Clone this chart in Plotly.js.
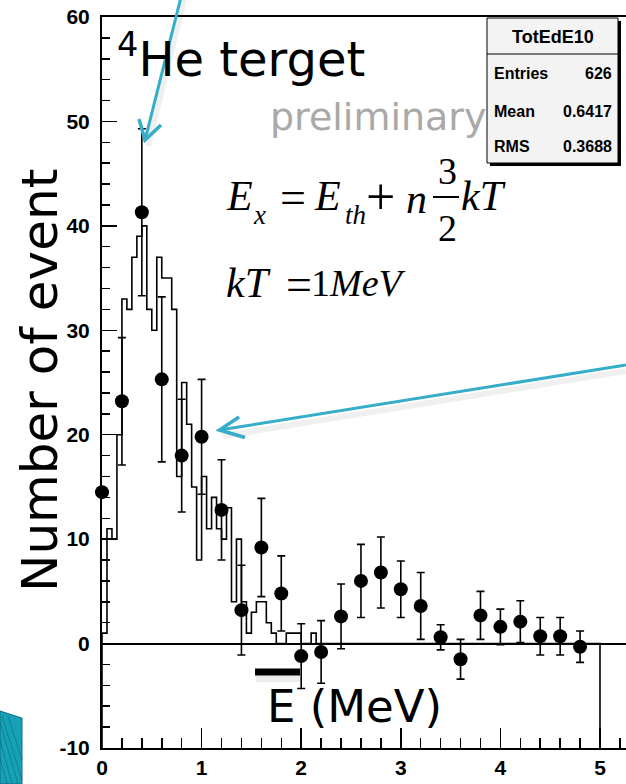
<!DOCTYPE html>
<html>
<head>
<meta charset="utf-8">
<script src="https://cdn.plot.ly/plotly-3.0.1.min.js"></script>
<style>html,body{margin:0;padding:0;background:#fff;}#chart{width:626px;height:784px;}</style>
</head>
<body>
<div id="chart"></div>
<script>
// ---------- data ----------
const binWidth = 0.05;
const histCounts = [
  1, 11, 10, 20, 33, 32, 37, 39, 40, 32,
  30, 37, 35, 35, 32, 16, 25, 21, 15, 8,
  16, 11, 14, 11, 10, 13, 4, 10, 4, 1,
  3, 4, 4, 2, 1, 0, 0, 1, 1, 1,
  0, 0, 1, 0, 0, 0, 0, 0, 0, 0,
  0, 0, 0, 0, 0, 0, 0, 0, 0, 0,
  0, 0, 0, 0, 0, 0, 0, 0, 0, 0,
  0, 0, 0, 0, 0, 0, 0, 0, 0, 0,
  0, 0, 0, 0, 0, 0, 0, 0, 0, 0,
  0, 0, 0, 0, 0, 0, 0, 0, 0, 0
];
const pointX   = [0.0, 0.2, 0.4, 0.6, 0.8, 1.0, 1.2, 1.4, 1.6, 1.8, 2.0, 2.2, 2.4, 2.6, 2.8, 3.0, 3.2, 3.4, 3.6, 3.8, 4.0, 4.2, 4.4, 4.6, 4.8];
const pointY   = [14.5, 23.2, 41.3, 25.3, 18.0, 19.8, 12.8, 3.2, 9.2, 4.8, -1.2, -0.8, 2.6, 6.0, 6.8, 5.2, 3.6, 0.6, -1.5, 2.7, 1.6, 2.1, 0.7, 0.7, -0.3];
const pointErr = [0, 6.1, 8.0, 7.9, 5.4, 5.5, 4.8, 4.3, 4.7, 3.6, 3.1, 3.0, 3.1, 3.5, 3.4, 2.7, 3.2, 1.2, 1.9, 2.3, 1.7, 2.0, 1.8, 1.8, 1.5];
const histMin = -10;
const yRange = [-10, 60];
const yTickVals = [-10, 0, 10, 20, 30, 40, 50, 60];
const yTickText = ['-10', '0', '10', '20', '30', '40', '50', '60'];
const yMinorVals = [-8, -6, -4, -2, 2, 4, 6, 8, 12, 14, 16, 18, 22, 24, 26, 28, 32, 34, 36, 38, 42, 44, 46, 48, 52, 54, 56, 58];
const xTickVals = [0, 1, 2, 3, 4, 5];
const xTickText = ['0', '1', '2', '3', '4', '5'];
const xMinorVals = [0.2, 0.4, 0.6, 0.8, 1.2, 1.4, 1.6, 1.8, 2.2, 2.4, 2.6, 2.8, 3.2, 3.4, 3.6, 3.8, 4.2, 4.4, 4.6, 4.8, 5.2];
const statsTitle = 'TotEdE10';
const statsLabels = ['Entries', 'Mean', 'RMS'];
const statsValues = ['626', '0.6417', '0.3688'];
const titleText = '<sup>4</sup>He terget';
const prelimText = 'preliminary';
const yTitleText = 'Number of event';
const xTitleText = 'E (MeV)';

// ---------- geometry helpers (pixel -> paper) ----------
const W = 626, H = 784;
const L = 102, R = 626, T = 17, B = 748;
const px = x => (x - L) / (R - L);
const py = y => (B - y) / (B - T);
const xMax = (R - L) / 99.6;

// ---------- histogram step line ----------
const stepX = [0], stepY = [histMin];
histCounts.forEach((c, i) => { stepX.push(i * binWidth); stepY.push(c); });
const histEnd = histCounts.length * binWidth;
stepX.push(histEnd); stepY.push(histCounts[histCounts.length - 1]);
stepX.push(histEnd); stepY.push(histMin);

const traces = [
  {
    x: stepX, y: stepY, type: 'scatter', mode: 'lines',
    line: {shape: 'hv', color: '#000', width: 1.6},
    hoverinfo: 'skip', cliponaxis: false
  },
  {
    x: pointX, y: pointY, type: 'scatter', mode: 'markers',
    marker: {color: '#000', size: 14, symbol: 'circle'},
    error_y: {type: 'data', array: pointErr, visible: true, color: '#000', thickness: 1.6, width: 4},
    cliponaxis: false
  }
];

const blue = '#36adc9';
function seg(pts) {
  return pts.map((p, i) => (i ? 'L' : 'M') + px(p[0]).toFixed(4) + ',' + py(p[1]).toFixed(4)).join(' ');
}
const shapes = [
  // stats box shadow + box
  {type: 'rect', xref: 'paper', yref: 'paper', x0: px(490), x1: px(621), y0: py(166), y1: py(21),
   fillcolor: '#000', line: {width: 0}, layer: 'above'},
  {type: 'rect', xref: 'paper', yref: 'paper', x0: px(487), x1: px(618), y0: py(163), y1: py(18),
   fillcolor: '#f3f3f3', line: {color: '#000', width: 1}, layer: 'above'},
  {type: 'line', xref: 'paper', yref: 'paper', x0: px(487), x1: px(618), y0: py(54), y1: py(54),
   line: {color: '#000', width: 1}, layer: 'above'},
  // fraction bar
  {type: 'line', xref: 'paper', yref: 'paper', x0: px(433), x1: px(459), y0: py(197), y1: py(197),
   line: {color: '#000', width: 2}, layer: 'above'},
  // overline bar on E (soft shadow + bar)
  {type: 'line', xref: 'paper', yref: 'paper', x0: px(256), x1: px(302), y0: py(678), y1: py(678),
   line: {color: 'rgba(0,0,0,0.07)', width: 8}, layer: 'above'},
  {type: 'line', xref: 'paper', yref: 'paper', x0: px(255), x1: px(300), y0: py(672), y1: py(672),
   line: {color: '#000', width: 7}, layer: 'above'},
  // arrow soft shadows
  {type: 'path', xref: 'paper', yref: 'paper', path: seg([[184, 0], [148, 146]]),
   line: {color: 'rgba(0,0,0,0.06)', width: 6}, layer: 'above'},
  {type: 'path', xref: 'paper', yref: 'paper', path: seg([[626, 371], [223, 436]]),
   line: {color: 'rgba(0,0,0,0.06)', width: 6}, layer: 'above'},
  // arrow 1
  {type: 'path', xref: 'paper', yref: 'paper', path: seg([[181, -3], [145, 140]]),
   line: {color: blue, width: 3}, layer: 'above'},
  {type: 'path', xref: 'paper', yref: 'paper', path: seg([[139, 119], [145, 140], [161, 125]]),
   line: {color: blue, width: 3.5}, layer: 'above'},
  // arrow 2
  {type: 'path', xref: 'paper', yref: 'paper', path: seg([[626, 365], [219.5, 430]]),
   line: {color: blue, width: 3}, layer: 'above'},
  {type: 'path', xref: 'paper', yref: 'paper', path: seg([[239, 417], [219.5, 430], [245, 437.5]]),
   line: {color: blue, width: 3.5}, layer: 'above'},
  // teal slide decoration bottom-left
  {type: 'path', xref: 'paper', yref: 'paper', path: seg([[0, 711], [22, 718], [22, 784], [0, 784]]) + ' Z',
   fillcolor: '#16a1b7', line: {color: '#0e6f80', width: 1}, layer: 'above'}
];
[[0, 722, 18, 784], [0, 740, 12, 784], [2, 716, 22, 780], [8, 716, 22, 760], [0, 758, 7, 784]].forEach(s => {
  shapes.push({type: 'line', xref: 'paper', yref: 'paper', x0: px(s[0]), y0: py(s[1]), x1: px(s[2]), y1: py(s[3]),
    line: {color: 'rgba(10,90,105,0.45)', width: 1}, layer: 'above'});
});

function ann(text, x, y, opts) {
  return Object.assign({text: text, xref: 'paper', yref: 'paper', x: px(x), y: py(y),
    showarrow: false, xanchor: 'left', yanchor: 'middle'}, opts || {});
}
const sans = 'DejaVu Sans';
const serif = 'Liberation Serif';
const statFont = {family: 'Liberation Sans', size: 16, color: '#000', weight: 'bold'};
const annotations = [
  ann(titleText, 115, 56, {font: {family: sans, size: 48, color: '#000'}}),
  ann(prelimText, 268, 117, {font: {family: sans, size: 38, color: '#a9a9a9'}}),
  ann(yTitleText, 40, 381, {xanchor: 'center', textangle: -90, font: {family: sans, size: 50, color: '#000'}}),
  ann(xTitleText, 354, 706, {xanchor: 'center', font: {family: sans, size: 45, color: '#000'}}),
  // equation line 1
  ann('<i>E</i>', 224, 196, {font: {family: serif, size: 42, color: '#000'}}),
  ann('<i>x</i>', 251, 215, {font: {family: serif, size: 27, color: '#000'}}),
  ann('=', 292.5, 197, {xanchor: 'center', font: {family: serif, size: 46, color: '#000'}}),
  ann('<i>E</i>', 312, 196, {font: {family: serif, size: 42, color: '#000'}}),
  ann('<i>th</i>', 343, 215, {font: {family: serif, size: 27, color: '#000'}}),
  ann('+', 380, 196, {xanchor: 'center', font: {family: serif, size: 52, color: '#000'}}),
  ann('<i>n</i>', 404, 199, {font: {family: serif, size: 42, color: '#000'}}),
  ann('3', 447, 171, {xanchor: 'center', font: {family: serif, size: 38, color: '#000'}}),
  ann('2', 447, 228, {xanchor: 'center', font: {family: serif, size: 38, color: '#000'}}),
  ann('<i>kT</i>', 459, 196, {font: {family: serif, size: 42, color: '#000'}}),
  // equation line 2
  ann('<i>kT</i>', 224, 283, {font: {family: serif, size: 42, color: '#000'}}),
  ann('=', 299, 284, {xanchor: 'center', font: {family: serif, size: 46, color: '#000'}}),
  ann('1<i>MeV</i>', 309, 283, {font: {family: serif, size: 38, color: '#000'}}),
  // stats box
  ann(statsTitle, 552.5, 37, {xanchor: 'center', font: Object.assign({}, statFont, {size: 18})})
];
statsLabels.forEach((lab, i) => {
  const yy = [73, 111, 146][i];
  annotations.push(ann(lab, 492, yy, {font: statFont}));
  annotations.push(ann(statsValues[i], 614, yy, {xanchor: 'right', font: statFont}));
});

const tickFont = {family: 'Liberation Sans', size: 21, color: '#000', weight: 'bold'};
const layout = {
  width: W, height: H,
  margin: {l: L, r: W - R, t: T, b: H - B, pad: 0},
  paper_bgcolor: '#fff', plot_bgcolor: '#fff',
  showlegend: false,
  xaxis: {
    range: [0, xMax], tickmode: 'array', tickvals: xTickVals, ticktext: xTickText,
    showgrid: false, zeroline: false,
    showline: true, linecolor: '#000', linewidth: 2, mirror: true,
    ticks: 'inside', ticklen: 20, tickwidth: 1.5, tickcolor: '#000',
    tickfont: tickFont, ticklabelstandoff: 0,
    minor: {tickmode: 'array', tickvals: xMinorVals, ticks: 'inside', ticklen: 10, tickwidth: 1.5, tickcolor: '#000', showgrid: false}
  },
  yaxis: {
    range: yRange, tickmode: 'array', tickvals: yTickVals, ticktext: yTickText,
    showgrid: false,
    zeroline: true, zerolinecolor: '#000', zerolinewidth: 2,
    showline: true, linecolor: '#000', linewidth: 2, mirror: false,
    ticks: 'inside', ticklen: 15, tickwidth: 1.5, tickcolor: '#000',
    tickfont: tickFont, ticklabelstandoff: 6,
    minor: {tickmode: 'array', tickvals: yMinorVals, ticks: 'inside', ticklen: 8, tickwidth: 1.5, tickcolor: '#000', showgrid: false}
  },
  shapes: shapes,
  annotations: annotations
};

Plotly.newPlot('chart', traces, layout, {staticPlot: true, displayModeBar: false});
</script>
</body>
</html>
